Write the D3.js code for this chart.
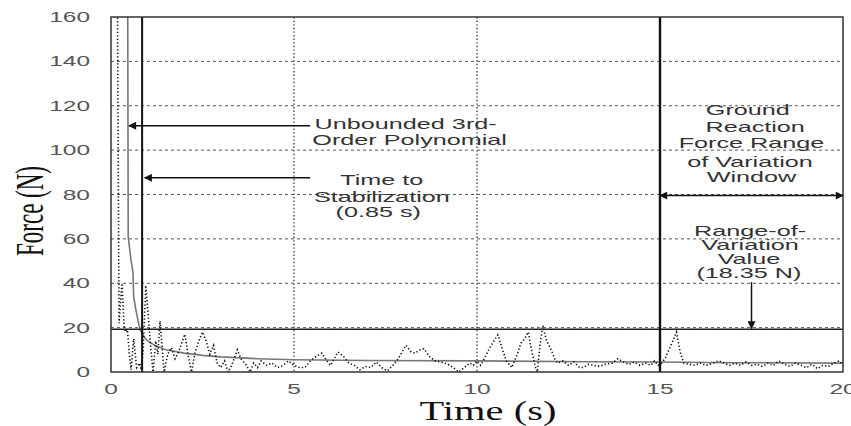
<!DOCTYPE html>
<html>
<head>
<meta charset="utf-8">
<script src="https://d3js.org/d3.v7.min.js"></script>
<style>
  body { margin: 0; background: #fff; }
  svg { display: block; }
  .grid-h line { stroke: #555; stroke-width: 1; stroke-dasharray: 3,3; }
  .grid-v line { stroke: #444; stroke-width: 1.4; stroke-dasharray: 1.4,2.2; }
  .tick-label { font-family: "Liberation Sans", Arial, sans-serif; font-size: 14px; fill: #555; }
  .note { font-family: "Liberation Sans", Arial, sans-serif; font-size: 14px; fill: #333; }
  .axis-title { font-family: "Liberation Serif", "Times New Roman", serif; fill: #111; }
</style>
</head>
<body>
<div id="chart"></div>
<script>
// Raw ground reaction force (dotted trace)
const rawTime = [0.00, 0.15, 0.22, 0.30, 0.36, 0.40, 0.45, 0.50, 0.55, 0.62, 0.70, 0.78, 0.82, 0.88, 0.95,
  1.02, 1.08, 1.15, 1.22, 1.28, 1.34, 1.40, 1.45, 1.55, 1.65, 1.75, 1.85, 1.95, 2.02, 2.10, 2.20, 2.30, 2.40,
  2.50, 2.60, 2.70, 2.80, 2.90, 3.00, 3.10, 3.20, 3.30, 3.45, 3.55, 3.70, 3.80, 3.90, 4.00, 4.10, 4.25, 4.40,
  4.55, 4.70, 4.85, 5.00, 5.15, 5.30, 5.45, 5.60, 5.76, 5.90, 6.00, 6.10, 6.20, 6.35, 6.50, 6.65, 6.80, 6.95,
  7.10, 7.25, 7.40, 7.55, 7.70, 7.85, 7.95, 8.06, 8.20, 8.30, 8.45, 8.55, 8.70, 8.85, 9.00, 9.20, 9.35, 9.50,
  9.65, 9.80, 9.90, 10.00, 10.10, 10.20, 10.35, 10.50, 10.57, 10.70, 10.80, 10.95, 11.10, 11.20, 11.30, 11.40,
  11.50, 11.60, 11.65, 11.72, 11.80, 11.90, 12.00, 12.05, 12.12, 12.20, 12.35, 12.50, 12.65, 12.80, 12.90,
  13.05, 13.20, 13.35, 13.50, 13.70, 13.85, 14.00, 14.15, 14.30, 14.45, 14.60, 14.75, 14.85, 14.95, 15.05,
  15.15, 15.30, 15.45, 15.55, 15.65, 15.80, 15.95, 16.10, 16.25, 16.45, 16.60, 16.75, 16.90, 17.05, 17.20,
  17.35, 17.50, 17.65, 17.80, 17.95, 18.10, 18.25, 18.40, 18.55, 18.70, 18.85, 19.00, 19.15, 19.30, 19.45,
  19.60, 19.75, 19.90, 20.00];
const rawForce = [300, 250, 22, 40, 20, 18, 19, 8, 1, 15, 2, 4, 1, 10, 39,
  25, 12, 0, 14, 8, 23, 10, 0, 8, 11, 6, 9, 14, 17, 8, 0, 9, 14,
  18, 14, 8, 12, 4, 2, 5, 0, 3, 10, 6, 3, 0, 4, 2, 5, 3, 4,
  2, 3, 5, 3, 2, 2, 5, 7, 8.5, 5, 3, 6, 9, 7, 4, 3, 1, 2.5,
  2, 4.5, 2, 0.5, 3, 6, 9, 12, 9, 8.5, 10, 10.5, 7, 5, 4.5, 3.6, 2, 0,
  2, 4, 3, 5, 3, 6, 11, 15, 16.7, 10, 5, 2, 8, 13, 15, 18,
  9, 2, 0, 12, 21, 14, 11, 9, 6, 4, 5, 3, 4.5, 2, 2,
  3.5, 3, 2.5, 3.5, 4, 6, 4.5, 3.5, 4.5, 3, 4, 3, 5, 3, 4,
  6.5, 12, 18, 9, 4, 3.5, 3, 4, 3, 4, 5, 4, 3, 4, 3,
  4.5, 3, 3.5, 2.5, 4, 3, 5, 3.5, 2.5, 4, 3, 2, 3.5, 1.5, 3,
  2.5, 4, 5, 3];

// Unbounded 3rd-order polynomial fit (grey trace)
const polyTime = [0.44, 0.47, 0.55, 0.60, 0.62, 0.68, 0.74, 0.80, 0.90, 1.00, 1.20, 1.50, 2.00, 2.50, 3.00,
  4.00, 5.00, 7.00, 10.00, 13.00, 15.00, 17.00, 20.00];
const polyForce = [300, 61, 50, 45, 34, 28, 23, 19, 16, 14, 12, 10, 8.5, 7.5, 6.8,
  6.0, 5.5, 5.2, 5.0, 4.6, 4.5, 4.2, 4.0];

const stabilizationTime = 0.85;
const windowStart = 15;
const windowEnd = 20;
const rangeUpper = 19.3;

const xTicks = [0, 5, 10, 15, 20];
const yTicks = [0, 20, 40, 60, 80, 100, 120, 140, 160];

const width = 851, height = 426;
const margin = {top: 17, right: 8, bottom: 54, left: 111};
const innerW = width - margin.left - margin.right;
const innerH = height - margin.top - margin.bottom;
const SX = 1.8; // the source image is stretched horizontally

const svg = d3.select("#chart").append("svg")
  .attr("width", width).attr("height", height);

const defs = svg.append("defs");
defs.append("clipPath").attr("id", "plot-clip")
  .append("rect").attr("width", innerW).attr("height", innerH);
defs.append("marker").attr("id", "head")
  .attr("viewBox", "0 0 10 10").attr("refX", 9).attr("refY", 5)
  .attr("markerWidth", 12).attr("markerHeight", 8).attr("markerUnits", "userSpaceOnUse")
  .attr("orient", "auto-start-reverse")
  .append("path").attr("d", "M0,0 L10,5 L0,10 Z").attr("fill", "#111");

const g = svg.append("g").attr("transform", `translate(${margin.left},${margin.top})`);

const x = d3.scaleLinear().domain([0, 20]).range([0, innerW]);
const y = d3.scaleLinear().domain([0, 160]).range([innerH, 0]);

function stext(parent, px, py, str, cls, anchor, sx) {
  return parent.append("text")
    .attr("class", cls)
    .attr("text-anchor", anchor || "middle")
    .attr("transform", `translate(${px},${py}) scale(${sx || SX},1)`)
    .text(str);
}

// grid
g.append("g").attr("class", "grid-h")
  .selectAll("line").data(yTicks.filter(d => d > 0 && d < 160)).join("line")
  .attr("x1", 0).attr("x2", innerW).attr("y1", d => y(d)).attr("y2", d => y(d));
g.append("g").attr("class", "grid-v")
  .selectAll("line").data(xTicks.filter(d => d > 0 && d < 20)).join("line")
  .attr("x1", d => x(d)).attr("x2", d => x(d)).attr("y1", 0).attr("y2", innerH);

// tick labels
g.append("g").selectAll("text").data(yTicks).join("text")
  .attr("class", "tick-label").attr("text-anchor", "end")
  .attr("transform", d => `translate(-21,${y(d) + 5}) scale(1.75,1)`)
  .text(d => d);
g.append("g").selectAll("text").data(xTicks).join("text")
  .attr("class", "tick-label").attr("text-anchor", "middle")
  .attr("transform", d => `translate(${x(d)},${innerH + 22}) scale(1.75,1)`)
  .text(d => d);

// data traces
const plot = g.append("g").attr("clip-path", "url(#plot-clip)");
const line = d3.line().x(d => x(d[0])).y(d => y(d[1]));

plot.append("path")
  .attr("d", line(polyTime.map((t, i) => [t, polyForce[i]])))
  .attr("fill", "none").attr("stroke", "#777").attr("stroke-width", 1.6);

plot.append("path")
  .attr("d", line(rawTime.map((t, i) => [t, rawForce[i]])))
  .attr("fill", "none").attr("stroke", "#111").attr("stroke-width", 1.6)
  .attr("stroke-dasharray", "1.3,2.2");

// reference lines
g.append("line")
  .attr("x1", 0).attr("x2", innerW).attr("y1", y(rangeUpper)).attr("y2", y(rangeUpper))
  .attr("stroke", "#222").attr("stroke-width", 1.6);
g.append("line")
  .attr("x1", x(stabilizationTime)).attr("x2", x(stabilizationTime)).attr("y1", 0).attr("y2", innerH)
  .attr("stroke", "#111").attr("stroke-width", 2);
g.append("line")
  .attr("x1", x(windowStart)).attr("x2", x(windowStart)).attr("y1", 0).attr("y2", innerH)
  .attr("stroke", "#111").attr("stroke-width", 2.4);

// frame
g.append("rect").attr("width", innerW).attr("height", innerH)
  .attr("fill", "none").attr("stroke", "#333").attr("stroke-width", 1.5);

// annotations
function arrow(x1, y1, x2, y2, both) {
  const a = g.append("line")
    .attr("x1", x(x1)).attr("y1", y(y1)).attr("x2", x(x2)).attr("y2", y(y2))
    .attr("stroke", "#111").attr("stroke-width", 1.5)
    .attr("marker-end", "url(#head)");
  if (both) a.attr("marker-start", "url(#head)");
}
arrow(5.44, 111, 0.49, 111);
arrow(5.44, 87.5, 0.92, 87.5);
arrow(windowStart, 79.5, windowEnd, 79.5, true);
arrow(17.5, 40.5, 17.5, 19.6);

const notes = [
  {t: 8.05, f: 109.5, s: "Unbounded 3rd-"},
  {t: 8.16, f: 102.3, s: "Order Polynomial"},
  {t: 7.4,  f: 84.5,  s: "Time to"},
  {t: 7.4,  f: 76.8,  s: "Stabilization"},
  {t: 7.3,  f: 70.0,  s: "(0.85 s)"},
  {t: 17.4, f: 115.8, s: "Ground"},
  {t: 17.6, f: 108.2, s: "Reaction"},
  {t: 17.5, f: 101.0, s: "Force Range"},
  {t: 17.46, f: 92.5, s: "of Variation"},
  {t: 17.5, f: 85.8,  s: "Window"},
  {t: 17.46, f: 61.3, s: "Range-of-"},
  {t: 17.46, f: 55.0, s: "Variation"},
  {t: 17.43, f: 48.7, s: "Value"},
  {t: 17.43, f: 42.5, s: "(18.35 N)"}
];
notes.forEach(n => stext(g, x(n.t), y(n.f), n.s, "note"));

// axis titles
svg.append("text").attr("class", "axis-title")
  .attr("text-anchor", "middle").attr("font-size", 27)
  .attr("transform", `translate(488,420) scale(1.5,1)`)
  .text("Time (s)");
svg.append("text").attr("class", "axis-title")
  .attr("text-anchor", "middle").attr("font-size", 23)
  .attr("transform", `translate(43,211) scale(1.75,1) rotate(-90)`)
  .text("Force (N)");
</script>
</body>
</html>
